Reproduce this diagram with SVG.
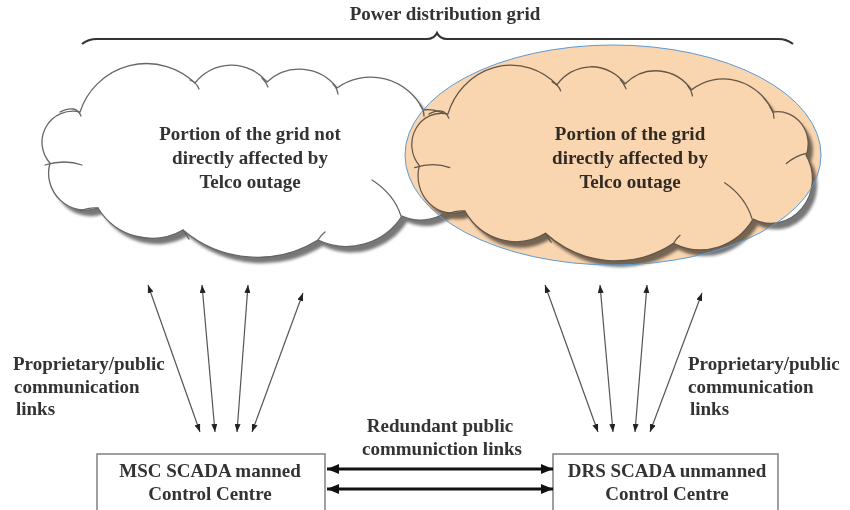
<svg xmlns="http://www.w3.org/2000/svg" xmlns:xlink="http://www.w3.org/1999/xlink" width="850" height="510" viewBox="0 0 850 510">
<style>
  text { font-family: "Liberation Serif", "Times New Roman", serif; font-weight: bold; font-size: 19px; fill: #333; }
  .mid { text-anchor: middle; }
  .cloud { fill: #fff; stroke: #666; stroke-width: 1.3; }
  .shadow { fill: #777; stroke: none; filter: url(#blur); }
  .lobe { fill: none; stroke: #666; stroke-width: 1.3; stroke-linecap: round; }
  .thin { stroke: #555; stroke-width: 1.2; fill: none; marker-start: url(#headS); marker-end: url(#headS); }
  .thick { stroke: #111; stroke-width: 3; fill: none; marker-start: url(#headL); marker-end: url(#headL); }
  .box { fill: #fff; stroke: #808080; stroke-width: 1.5; }
</style>
<defs>
  <filter id="blur" x="-10%" y="-10%" width="120%" height="120%">
    <feGaussianBlur stdDeviation="1.5"/>
  </filter>
  <marker id="headS" markerUnits="userSpaceOnUse" viewBox="0 0 8 6" refX="8" refY="3" markerWidth="8" markerHeight="6" orient="auto-start-reverse">
    <path d="M0,0 L8,3 L0,6 z" fill="#222"/>
  </marker>
  <marker id="headL" markerUnits="userSpaceOnUse" viewBox="0 0 12 10" refX="12" refY="5" markerWidth="12" markerHeight="10" orient="auto-start-reverse">
    <path d="M0,0 L12,5 L0,10 z" fill="#111"/>
  </marker>
  <path id="cloudShape" d="M80,112 A70,70 0 0 1 195,83 A46,46 0 0 1 267,82 A47,47 0 0 1 337,88 A58,58 0 0 1 423,110 A32,32 0 0 1 458,153 A44,44 0 0 1 402,216 A66,66 0 0 1 318,240 A115,115 0 0 1 183,230 A63,63 0 0 1 98,208 A37,37 0 0 1 50,163 A31,31 0 0 1 80,112 Z"/>
  <path id="cloudLines" d="M60,112 Q76,104 81,116 M190,80 Q197,83 199,89 M262,78 Q266,82 268,87 M333,84 Q337,88 338,94 M420,105 Q424,110 424,116 M45,165 Q65,159 82,165 M80,211 Q90,207 98,208 M437,161 Q447,153 458,151 M372,180 Q394,194 401,216 M183,230 Q186,235 189,239 M318,240 Q321,235 325,232"/>
</defs>

<g id="title">
  <text class="mid" x="445" y="20">Power distribution grid</text>
  <path d="M82,44 Q88,39 97,39 L427,39 Q434,39 437,33 Q440,39 447,39 L778,39 Q787,39 793,44" fill="none" stroke="#333" stroke-width="2.2"/>
</g>

<g id="cloud-left">
  <use xlink:href="#cloudShape" class="shadow" transform="translate(5,6)"/>
  <use xlink:href="#cloudShape" class="cloud"/>
  <use xlink:href="#cloudLines" class="lobe"/>
  <text class="mid" x="250" y="140">Portion of the grid not</text>
  <text class="mid" x="250" y="164">directly affected by</text>
  <text class="mid" x="250" y="188">Telco outage</text>
</g>

<g id="cloud-right">
  <g transform="translate(372,1) scale(0.948,1.01)">
    <use xlink:href="#cloudShape" class="shadow" transform="translate(5,6)"/>
    <use xlink:href="#cloudShape" class="cloud"/>
    <use xlink:href="#cloudLines" class="lobe"/>
  </g>
  <text class="mid" x="630" y="140">Portion of the grid</text>
  <text class="mid" x="630" y="164">directly affected by</text>
  <text class="mid" x="630" y="188">Telco outage</text>
  <ellipse cx="613" cy="155" rx="208" ry="110" fill="#F9D5B0" style="mix-blend-mode:multiply"/>
  <ellipse cx="613" cy="155" rx="208" ry="110" fill="none" stroke="#5B9BD5" stroke-width="1"/>
</g>

<g id="msc">
  <rect class="box" x="97" y="454" width="228" height="62"/>
  <text class="mid" x="210" y="477">MSC SCADA manned</text>
  <text class="mid" x="210" y="500">Control Centre</text>
</g>

<g id="drs">
  <rect class="box" x="553" y="454" width="225" height="62"/>
  <text class="mid" x="667" y="477">DRS SCADA unmanned</text>
  <text class="mid" x="667" y="500">Control Centre</text>
</g>

<g id="connectors">
  <line class="thin" x1="148" y1="285" x2="200" y2="432"/>
  <line class="thin" x1="202" y1="285" x2="215" y2="432"/>
  <line class="thin" x1="248" y1="285" x2="237" y2="432"/>
  <line class="thin" x1="303" y1="293" x2="252" y2="432"/>
  <line class="thin" x1="545" y1="285" x2="598" y2="432"/>
  <line class="thin" x1="600" y1="285" x2="613" y2="432"/>
  <line class="thin" x1="647" y1="285" x2="635" y2="432"/>
  <line class="thin" x1="702" y1="293" x2="650" y2="432"/>
  <line class="thick" x1="327" y1="469" x2="553" y2="469"/>
  <line class="thick" x1="327" y1="489" x2="553" y2="489"/>
</g>

<g id="labels">
  <text x="13" y="370">Proprietary/public</text>
  <text x="14" y="393">communication</text>
  <text x="16" y="415">links</text>
  <text x="688" y="370">Proprietary/public</text>
  <text x="688" y="393">communication</text>
  <text x="690" y="415">links</text>
  <text class="mid" x="440" y="432">Redundant public</text>
  <text class="mid" x="442" y="455">communiction links</text>
</g>
</svg>
